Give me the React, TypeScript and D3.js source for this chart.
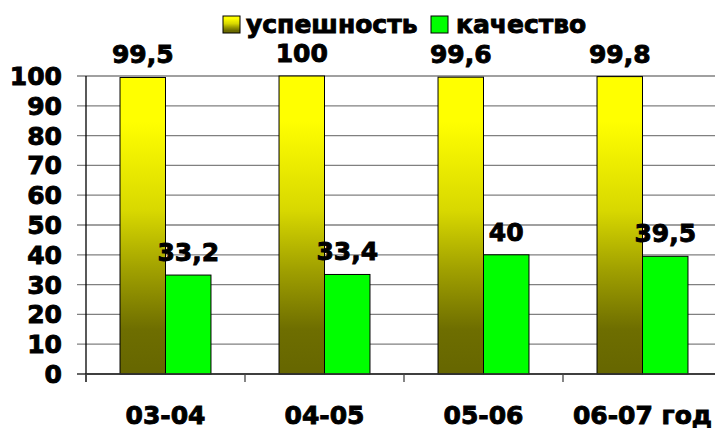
import React from "react";
import * as d3 from "d3";

const categories = ["03-04", "04-05", "05-06", "06-07 год"];
const seriesNames = ["успешность", "качество"];
const uspeshnost = [99.5, 100, 99.6, 99.8];
const kachestvo = [33.2, 33.4, 40, 39.5];
const labelsU = ["99,5", "100", "99,6", "99,8"];
const labelsK = ["33,2", "33,4", "40", "39,5"];
const yTicks = [0, 10, 20, 30, 40, 50, 60, 70, 80, 90, 100];

const W = 715;
const H = 430;
const left = 86;
const top = 76;
const bottom = 374;
const step = 159;

const txt: React.CSSProperties = {
  fontFamily: "'DejaVu Sans', Verdana, sans-serif",
  fontWeight: 700,
  fontSize: 25,
  stroke: "#000",
  strokeWidth: 0.9,
  paintOrder: "stroke",
};

export default function App() {
  const x = d3
    .scaleBand<string>()
    .domain(categories)
    .range([left, left + step * categories.length])
    .paddingInner(0.428)
    .paddingOuter(0.214);
  const xs = d3.scaleBand<string>().domain(seriesNames).range([0, x.bandwidth()]).padding(0);
  const y = d3.scaleLinear().domain([0, 100]).range([bottom, top]);
  const series = [
    { name: seriesNames[0], values: uspeshnost, labels: labelsU, fill: "url(#gradU)" },
    { name: seriesNames[1], values: kachestvo, labels: labelsK, fill: "#00ff00" },
  ];
  const boundaries = d3.range(categories.length + 1).map((i) => left + i * step);

  return (
    <svg width={W} height={H} style={{ position: "absolute", left: 0, top: 0, background: "#fff" }}>
      <defs>
        <linearGradient id="gradU" x1="0" y1="0" x2="0" y2="1">
          <stop offset="0" stopColor="#ffff00" />
          <stop offset="0.15" stopColor="#ffff00" />
          <stop offset="0.45" stopColor="#d8d800" />
          <stop offset="0.65" stopColor="#a0a000" />
          <stop offset="0.85" stopColor="#6e6e00" />
          <stop offset="1" stopColor="#666600" />
        </linearGradient>
      </defs>
      {yTicks.map((t) => (
        <line key={"g" + t} x1={left - 9} x2={W} y1={y(t)} y2={y(t)} stroke={t === 0 ? "#333" : "#808080"} strokeWidth={1.3} />
      ))}
      {yTicks.map((t) => (
        <text key={"yl" + t} x={62} y={y(t) + 9} textAnchor="end" style={txt} fill="#000">
          {t}
        </text>
      ))}
      {categories.map((c, i) =>
        series.map((s) => (
          <rect
            key={c + s.name}
            x={(x(c) as number) + (xs(s.name) as number)}
            y={y(s.values[i])}
            width={xs.bandwidth()}
            height={bottom - y(s.values[i])}
            fill={s.fill}
            stroke="#000"
            strokeWidth={1}
          />
        ))
      )}
      <line x1={left} x2={left} y1={top} y2={bottom + 8} stroke="#000" strokeWidth={1.3} />
      <line x1={left} x2={W} y1={bottom} y2={bottom} stroke="#333" strokeWidth={1.3} />
      {boundaries.map((b) => (
        <line key={"t" + b} x1={b} x2={b} y1={bottom} y2={bottom + 8} stroke="#444" strokeWidth={1.3} />
      ))}
      {categories.map((c, i) =>
        series.map((s) => (
          <text
            key={"dl" + c + s.name}
            x={(x(c) as number) + (xs(s.name) as number) + xs.bandwidth() / 2}
            y={y(s.values[i]) - 14}
            textAnchor="middle"
            style={txt}
            fill="#000"
          >
            {s.labels[i]}
          </text>
        ))
      )}
      {categories.map((c) => (
        <text key={"xl" + c} x={(x(c) as number) + x.bandwidth() / 2} y={424} textAnchor="middle" style={txt} fill="#000">
          {c}
        </text>
      ))}
      <rect x={223} y={16} width={17} height={17} fill="url(#gradU)" stroke="#000" strokeWidth={1} />
      <text x={246} y={33} style={txt} fill="#000">
        {seriesNames[0]}
      </text>
      <rect x={431} y={16} width={17} height={17} fill="#00ff00" stroke="#000" strokeWidth={1} />
      <text x={456} y={33} style={txt} fill="#000">
        {seriesNames[1]}
      </text>
    </svg>
  );
}
